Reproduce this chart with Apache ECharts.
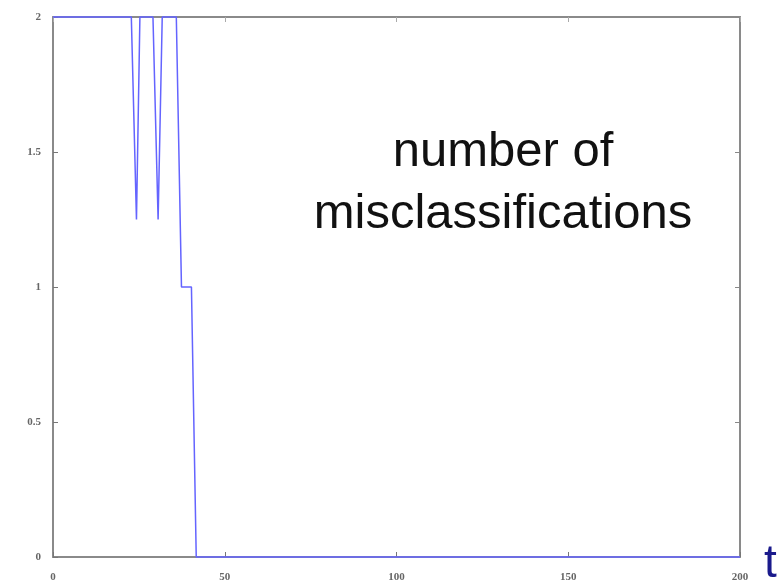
<!DOCTYPE html>
<html>
<head>
<meta charset="utf-8">
<script src="https://cdn.jsdelivr.net/npm/echarts@6/dist/echarts.min.js"></script>
<style>html,body{margin:0;padding:0;background:#fff;}#c{width:778px;height:588px;}</style>
</head>
<body>
<div id="c"></div>
<script>
// data
var tValues = [0, 22.8, 24.3, 25.3, 29.1, 30.6, 31.8, 35.9, 37.4, 40.3, 41.7, 200];
var misclassifications = [2, 2, 1.25, 2, 2, 1.25, 2, 2, 1, 1, 0, 0];
var xTicks = [0, 50, 100, 150, 200];
var yTicks = [0, 0.5, 1, 1.5, 2];

var seriesData = tValues.map(function (t, i) { return [t, misclassifications[i]]; });

var chart = echarts.init(document.getElementById('c'));
var axisLineStyle = { color: '#8a8a8a', width: 2 };
var labelStyle = { color: '#666', fontFamily: 'Liberation Serif', fontSize: 11, fontWeight: 'bold' };
chart.setOption({
  animation: false,
  backgroundColor: '#fff',
  grid: { left: 53, right: 38, top: 17, bottom: 31, show: false },
  xAxis: [
    { type: 'value', position: 'bottom', min: xTicks[0], max: xTicks[xTicks.length - 1], interval: 50,
      axisLine: { show: true, lineStyle: axisLineStyle },
      axisTick: { show: true, inside: true, length: 5, lineStyle: { color: '#777', width: 1 } },
      axisLabel: Object.assign({ margin: 15 }, labelStyle),
      splitLine: { show: false } },
    { type: 'value', position: 'top', min: xTicks[0], max: xTicks[xTicks.length - 1], interval: 50,
      axisLine: { show: true, onZero: false, lineStyle: axisLineStyle },
      axisTick: { show: true, inside: true, length: 5, lineStyle: { color: '#aaa', width: 1 } },
      axisLabel: { show: false }, splitLine: { show: false } }
  ],
  yAxis: [
    { type: 'value', position: 'left', min: yTicks[0], max: yTicks[yTicks.length - 1], interval: 0.5,
      axisLine: { show: true, lineStyle: axisLineStyle },
      axisTick: { show: true, inside: true, length: 5, lineStyle: { color: '#777', width: 1 } },
      axisLabel: Object.assign({ margin: 12 }, labelStyle),
      splitLine: { show: false } },
    { type: 'value', position: 'right', min: yTicks[0], max: yTicks[yTicks.length - 1], interval: 0.5,
      axisLine: { show: true, onZero: false, lineStyle: axisLineStyle },
      axisTick: { show: true, inside: true, length: 5, lineStyle: { color: '#888', width: 1 } },
      axisLabel: { show: false }, splitLine: { show: false } }
  ],
  series: [{
    type: 'line', xAxisIndex: 0, yAxisIndex: 0, data: seriesData,
    showSymbol: false, clip: false, z: 10,
    lineStyle: { color: '#6464ff', width: 1.5 }
  }],
  graphic: [
    { type: 'text', z: 20, x: 503, y: 128,
      style: { text: 'number of', fill: '#111', font: '49px "Liberation Sans", Arial, sans-serif', textAlign: 'center' } },
    { type: 'text', z: 20, x: 503, y: 190,
      style: { text: 'misclassifications', fill: '#111', font: '49px "Liberation Sans", Arial, sans-serif', textAlign: 'center' } },
    { type: 'text', z: 20, x: 764, y: 541,
      style: { text: 't', fill: '#1a1a8c', font: '46px "Liberation Sans", Arial, sans-serif' } }
  ]
});
</script>
</body>
</html>
